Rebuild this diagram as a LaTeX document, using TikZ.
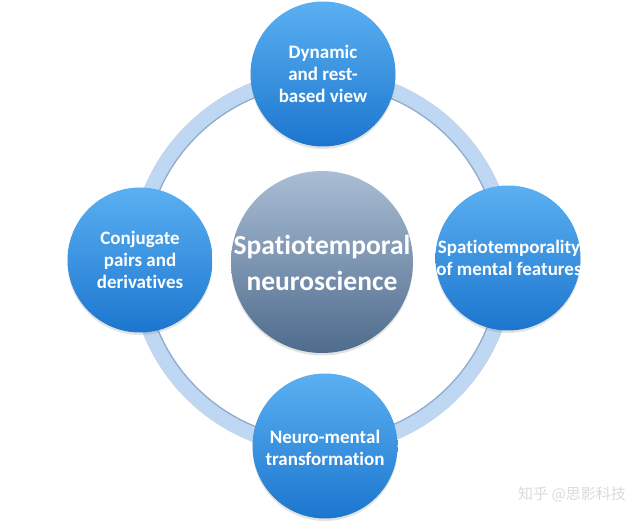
\documentclass[tikz,border=0pt]{standalone}
\usepackage{fontspec}
\setmainfont{Carlito}[Ligatures=NoCommon]
\newfontfamily\cjk{Noto Sans CJK SC}
\usetikzlibrary{shadows}
\definecolor{bubtop}{HTML}{5BB0F2}
\definecolor{bubbot}{HTML}{1C76CE}
\definecolor{hubtop}{HTML}{AABDD4}
\definecolor{hubbot}{HTML}{4E6C8D}
\definecolor{ringc}{HTML}{BED7F3}
\definecolor{ringedge}{HTML}{8FAACB}
\tikzset{
  bubble/.style={circle, inner sep=0pt, minimum size=145pt, top color=bubtop, bottom color=bubbot,
    drop shadow={opacity=0.22, shadow xshift=0pt, shadow yshift=-2.5pt}},
  hub/.style={circle, inner sep=0pt, minimum size=182pt, top color=hubtop, bottom color=hubbot,
    drop shadow={opacity=0.22, shadow xshift=0pt, shadow yshift=-2.5pt}},
  lbl/.style={text=white, font=\bfseries\fontsize{19}{22}\selectfont, align=center, inner sep=0pt},
  hublbl/.style={text=white, font=\bfseries\fontsize{27.5}{36}\selectfont, align=center, inner sep=0pt},
}
\begin{document}
\begin{tikzpicture}[x=1pt,y=-1pt]
\useasboundingbox (0,0) rectangle (642,526);
\fill[white] (0,0) rectangle (642,526);
% ring
\coordinate (rc) at (322,262);
\draw[ringc, line width=15pt] (rc) circle (185pt);
\draw[ringedge, line width=1.3pt] (rc) circle (177.5pt);
\draw[ringedge!50, line width=0.6pt] (rc) circle (192.5pt);
% circles
\node[hub] (hub) at (322,262) {};
\node[bubble] (top) at (323,74) {};
\node[bubble] (left) at (140,260) {};
\node[bubble] (right) at (508,258) {};
\node[bubble] (bottom) at (325,446) {};
% labels
\node[hublbl] (hubt) at ([yshift=-1pt]hub.center) {Spatiotemporal\\neuroscience};
\node[lbl] (topt) at (top.center) {Dynamic\\and rest-\\based view};
\node[lbl] (leftt) at (left.center) {Conjugate\\pairs and\\derivatives};
\begin{scope}
  \clip (right.center) circle (72.5pt);
  \node[lbl] (rightt) at ([xshift=1pt]right.center) {Spatiotemporality\\of mental features};
\end{scope}
\node[lbl] (bottomt) at ([yshift=-2pt]bottom.center) {Neuro-mental\\transformation};
% watermark
\node[text=gray!28, font=\cjk\fontsize{15}{15}\selectfont] (wm) at (572,494) {知乎 @思影科技};
\end{tikzpicture}
\end{document}
